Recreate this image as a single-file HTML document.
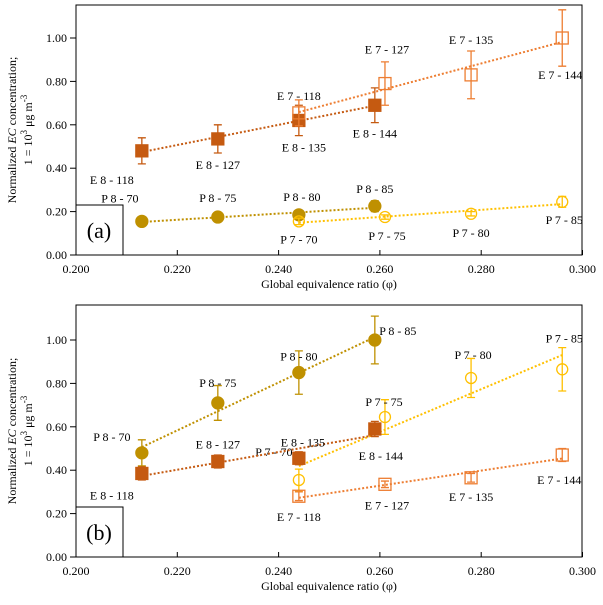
<!DOCTYPE html>
<html><head><meta charset="utf-8"><style>
body{margin:0;background:#fff}
text{font-family:"Liberation Serif",serif;font-size:12px;fill:#000}
</style></head><body>
<svg id="c" width="603" height="600" xmlns="http://www.w3.org/2000/svg"></svg>
<script>
const xs8 = [0.213, 0.228, 0.244, 0.259];
const xs7 = [0.244, 0.261, 0.278, 0.296];
const aE8 = [0.48, 0.535, 0.62, 0.69];   const aE8err = [0.06, 0.065, 0.07, 0.08];
const aE7 = [0.655, 0.79, 0.83, 1.00];   const aE7err = [0.06, 0.1, 0.11, 0.13];
const aP8 = [0.155, 0.175, 0.185, 0.225]; const aP8err = [0.01, 0.01, 0.015, 0.025];
const aP7 = [0.155, 0.175, 0.19, 0.245];  const aP7err = [0.015, 0.01, 0.01, 0.025];
const bP8 = [0.48, 0.71, 0.85, 1.00];   const bP8err = [0.06, 0.08, 0.1, 0.11];
const bP7 = [0.355, 0.645, 0.825, 0.865]; const bP7err = [0.05, 0.08, 0.09, 0.1];
const bE8 = [0.385, 0.44, 0.455, 0.59];  const bE8err = [0.03, 0.03, 0.03, 0.035];
const bE7 = [0.28, 0.335, 0.365, 0.47];  const bE7err = [0.02, 0.015, 0.02, 0.03];
const xTicks = ["0.200","0.220","0.240","0.260","0.280","0.300"];
const yTicks = ["0.00","0.20","0.40","0.60","0.80","1.00"];
const labE8 = ["E 8 - 118","E 8 - 127","E 8 - 135","E 8 - 144"];
const labE7 = ["E 7 - 118","E 7 - 127","E 7 - 135","E 7 - 144"];
const labP8 = ["P 8 - 70","P 8 - 75","P 8 - 80","P 8 - 85"];
const labP7 = ["P 7 - 70","P 7 - 75","P 7 - 80","P 7 - 85"];

const svg=document.getElementById('c');
const NS='http://www.w3.org/2000/svg';
function mk(t,a,p){const e=document.createElementNS(NS,t);for(const k in a)e.setAttribute(k,a[k]);(p||svg).appendChild(e);return e;}
const X=v=>76+(v-0.2)*5065;
const C={E8:'#c55a11',E7:'#ed7d31',P8:'#bf9000',P7:'#ffc000'};

function panel(name,y0,top,series){
  const Y=v=>y0-v*217;
  const g=mk('g',{});
  
  
  const box=mk('rect',{x:76,y:top,width:506,height:y0-top,fill:'none',stroke:'#000','stroke-width':1},g);
  
  
  xTicks.forEach((t,i)=>{const v=parseFloat(t);const x=X(v);
    mk('line',{x1:x,x2:x,y1:y0,y2:y0-5,stroke:'#000'},g);
    const tx=mk('text',{x:x,y:y0+18,'text-anchor':'middle'},g);tx.textContent=t;
    
    });
  yTicks.forEach(t=>{const v=parseFloat(t);const y=Y(v);
    mk('line',{x1:70,x2:76,y1:y,y2:y,stroke:'#000'},g);
    const tx=mk('text',{x:67,y:y+4,'text-anchor':'end'},g);tx.textContent=t;
    
    });
  const xt=mk('text',{x:329,y:y0+33,'text-anchor':'middle'},g);xt.textContent='Global  equivalence ratio (φ)';
  
  
  const yt=mk('text',{transform:`translate(16,${(top+y0)/2}) rotate(-90)`,'text-anchor':'middle'},g);
  yt.innerHTML='Normalized <tspan font-style="italic">EC</tspan>  concentration;';
  
  
  const yt2=mk('text',{transform:`translate(32,${(top+y0)/2}) rotate(-90)`,'text-anchor':'middle'},g);
  yt2.innerHTML='1 = 10<tspan dy="-5" style="font-size:9px">3</tspan><tspan dy="5"> μg m</tspan><tspan dy="-5" style="font-size:9px">-3</tspan>';
  
  
  const lb=mk('rect',{x:76,y:y0-50,width:47,height:50,fill:'#fff',stroke:'#000'},g);
  
  
  const lt=mk('text',{x:99,y:y0-17,'text-anchor':'middle',style:'font-size:22px'},g);lt.textContent='('+name+')';
  
  
  series.forEach(s=>{
    const n=s.xs.length;let mx=0,my=0;s.xs.forEach((x,i)=>{mx+=x;my+=s.ys[i];});mx/=n;my/=n;
    let sxy=0,sxx=0;s.xs.forEach((x,i)=>{sxy+=(x-mx)*(s.ys[i]-my);sxx+=(x-mx)*(x-mx);});
    const b=sxy/sxx,a=my-b*mx;const x1=s.xs[0],x2=s.xs[n-1];
    const tl=mk('line',{x1:X(x1),y1:Y(a+b*x1),x2:X(x2),y2:Y(a+b*x2),stroke:s.c,'stroke-width':2,'stroke-dasharray':'2,2'},g);
    
    
    s.xs.forEach((xv,i)=>{const x=X(xv),y=Y(s.ys[i]),e=s.err[i]*217;
      const eb=mk('path',{d:`M${x},${y-e}V${y+e}M${x-4},${y-e}H${x+4}M${x-4},${y+e}H${x+4}`,stroke:s.c,'stroke-width':1.3,fill:'none'},g);
      
      
      let m;
      if(s.sq) m=mk('rect',{x:x-6,y:y-6,width:12,height:12,fill:s.fill?s.c:'none',stroke:s.c,'stroke-width':1.3},g);
      else m=mk('circle',{cx:x,cy:y,r:s.fill?6:5.5,fill:s.fill?s.c:'none',stroke:s.c,'stroke-width':1.3},g);
      
      
      const t=mk('text',{x:x+s.off[i][0],y:y+s.off[i][1]+4,'text-anchor':'middle'},g);t.textContent=s.lab[i];
      
      
    });
  });
}
panel('a',255,5,[
 {id:'e8',xs:xs8,ys:aE8,err:aE8err,c:C.E8,sq:1,fill:1,lab:labE8,off:[[-30,29],[0,26],[5,27],[0,28]]},
 {id:'e7',xs:xs7,ys:aE7,err:aE7err,c:C.E7,sq:1,fill:0,lab:labE7,off:[[0,-17],[2,-34],[0,-35],[-2,37]]},
 {id:'p8',xs:xs8,ys:aP8,err:aP8err,c:C.P8,sq:0,fill:1,lab:labP8,off:[[-22,-23],[0,-19],[3,-18],[0,-17]]},
 {id:'p7',xs:xs7,ys:aP7,err:aP7err,c:C.P7,sq:0,fill:0,lab:labP7,off:[[0,18],[2,19],[0,19],[2,18]]}
]);
panel('b',557,305,[
 {id:'p8',xs:xs8,ys:bP8,err:bP8err,c:C.P8,sq:0,fill:1,lab:labP8,off:[[-30,-16],[0,-20],[0,-16],[23,-9]]},
 {id:'p7',xs:xs7,ys:bP7,err:bP7err,c:C.P7,sq:0,fill:0,lab:labP7,off:[[-25,-28],[-1,-15],[2,-23],[2,-31]]},
 {id:'e8',xs:xs8,ys:bE8,err:bE8err,c:C.E8,sq:1,fill:1,lab:labE8,off:[[-30,22],[0,-17],[4,-16],[6,27]]},
 {id:'e7',xs:xs7,ys:bE7,err:bE7err,c:C.E7,sq:1,fill:0,lab:labE7,off:[[0,21],[2,21],[0,19],[-3,25]]}
]);
</script>
</body></html>
